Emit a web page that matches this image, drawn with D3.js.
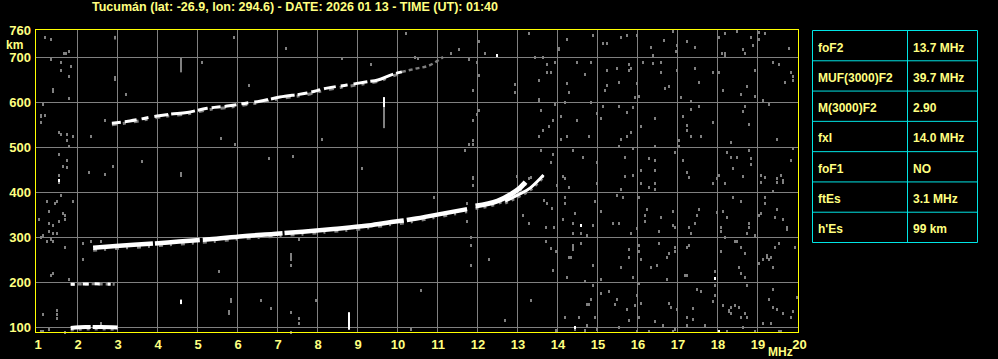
<!DOCTYPE html>
<html>
<head>
<meta charset="utf-8">
<script src="https://cdn.jsdelivr.net/npm/d3@7"></script>
<style>
  html, body { margin: 0; padding: 0; background: #000; }
  svg { display: block; font-family: "Liberation Sans", Arial, sans-serif; font-weight: bold; }
</style>
</head>
<body>
<div id="chart"></div>
<script>
// Ticks
const freqTicks = [1, 2, 3, 4, 5, 6, 7, 8, 9, 10, 11, 12, 13, 14, 15, 16, 17, 18, 19, 20];
const heightTicks = [100, 200, 300, 400, 500, 600, 700, 760];
const gridHeights = [100, 200, 300, 400, 500, 600, 700];

// Parameter table
const paramNames = ["foF2", "MUF(3000)F2", "M(3000)F2", "fxI", "foF1", "ftEs", "h'Es"];
const paramValues = ["13.7 MHz", "39.7 MHz", "2.90", "14.0 MHz", "NO", "3.1 MHz", "99 km"];

// F2 trace (MHz, km)
const f2Main = [[2.39, 277], [2.96, 281], [3.8, 286], [4.54, 291], [5.3, 296], [6.13, 303], [6.9, 308],
  [7.63, 313], [8.4, 319], [9.21, 326], [9.74, 333], [10.39, 341], [11.06, 352], [11.74, 363]];
const f2Ordinary = [[11.95, 370], [12.5, 381], [12.83, 396], [13.03, 408], [13.2, 423]];
const f2Extra = [[12.69, 381], [13.0, 394], [13.33, 411], [13.5, 425], [13.65, 439]];
// second hop trace
const f2Double = [[2.86, 554], [3.31, 559], [3.99, 570], [4.31, 574], [4.74, 578], [5.24, 587], [5.74, 592],
  [6.24, 599], [6.56, 603], [7.06, 612], [7.74, 621], [8.24, 632], [8.74, 639], [9.24, 646], [9.51, 650],
  [9.86, 662], [10.11, 668]];
const f2DoubleTail = [[10.11, 668], [10.44, 675], [10.81, 683], [10.99, 692], [11.14, 701]];
// Es layers
const esLow = [[1.83, 99], [2.2, 101], [2.6, 101], [3.03, 100]];
const esDouble = [[1.83, 196], [2.4, 197], [2.93, 196]];

// short vertical echoes: [freq, from km, to km]
const vertGray = [[9.67, 543, 590], [4.6, 667, 700], [2.94, 740, 748]];
const vertWhite = [[9.67, 590, 612], [8.78, 95, 134], [4.59, 152, 162]];

// scattered noise (MHz, km)
const grayNoise = [
  [14.24,741],[14.89,750],[15.14,732],[15.24,732],[15.59,745],[15.74,750],[15.99,750],[16.34,723],[16.39,706],
  [16.66,739],[16.95,715],[16.99,728],[16.89,759],[17.24,737],[17.44,723],[18.04,746],[18.19,755],[18.49,759],
  [18.64,719],[18.69,709],[18.84,745],[18.89,728],[19.04,756],[19.04,741],[19.19,755],[19.79,721],[18.11,709],
  [18.19,709],[18.19,705],[14.49,689],[14.84,689],[14.69,663],[15.24,672],[15.49,676],[15.79,686],[15.84,676],
  [15.79,672],[16.14,689],[16.39,687],[16.59,689],[16.59,667],[16.99,672],[17.44,676],[17.89,667],[18.04,667],
  [18.94,672],[19.39,689],[19.54,686],[19.84,667],[19.89,658],[19.89,649],[19.69,645],[14.23,643],[14.29,623],
  [15.24,639],[15.19,627],[15.54,645],[15.99,643],[15.94,612],[16.04,614],[16.69,632],[16.79,636],[17.09,612],
  [17.34,603],[17.54,645],[18.14,627],[18.59,618],[18.74,636],[18.94,614],[19.14,605],[19.29,596],[14.19,601],
  [14.84,601],[15.14,592],[15.54,592],[15.89,589],[15.74,578],[14.99,576],[15.09,565],[14.49,560],[14.09,569],
  [16.09,547],[16.44,565],[17.14,569],[17.24,549],[17.24,538],[17.34,525],[17.59,525],[17.89,556],[17.54,592],
  [17.34,585],[18.64,581],[18.69,592],[18.79,552],[19.49,520],[18.34,512],[14.79,525],[14.24,525],[14.09,520],
  [15.59,520],[15.84,534],[15.74,525],[15.54,503],[15.89,498],[16.44,503],[17.04,516],[17.04,503],[14.39,494],
  [14.64,479],[14.99,467],[15.69,480],[16.29,476],[16.44,472],[16.09,449],[16.44,449],[15.89,440],[15.69,436],
  [16.94,489],[17.14,472],[17.24,445],[17.29,435],[18.04,440],[18.24,489],[18.34,480],[18.49,480],[18.39,454],
  [18.64,436],[18.84,476],[18.84,463],[18.79,494],[19.09,440],[19.19,435],[19.49,432],[19.59,440],[19.64,427],
  [19.84,472],[19.89,498],[14.14,436],[14.19,432],[17.99,432],
  [14.29,412],[14.99,421],[15.59,408],[16.09,421],[16.29,412],[16.44,421],[16.44,408],[17.89,421],[18.19,421],
  [19.09,424],[19.49,424],[19.64,424],[19.39,404],[14.19,390],[14.19,377],[14.94,381],[14.44,355],[14.14,341],
  [14.39,332],[14.59,309],[14.39,309],[14.74,306],[14.89,328],[15.09,359],[15.39,332],[15.54,332],[15.64,390],
  [15.49,395],[15.84,310],[15.99,321],[16.04,390],[16.19,350],[16.19,337],[16.24,364],[16.59,346],[16.54,315],
  [16.89,359],[16.89,328],[16.94,324],[17.29,324],[17.34,310],[17.44,332],[17.49,350],[17.54,364],[17.99,356],
  [18.14,359],[18.24,346],[18.09,324],[18.09,315],[18.19,301],[18.39,390],[18.59,381],[18.79,332],[18.79,324],
  [18.94,306],[19.19,390],[19.19,377],[19.04,350],[19.09,355],[19.44,346],[19.49,364],[19.64,341],[19.74,324],
  [19.74,319],[18.74,310],[18.44,292],[18.49,292],[14.39,283],[14.39,275],[14.39,279],[14.34,257],[14.29,257],
  [14.59,288],[14.89,239],[14.24,212],[14.69,203],[15.09,208],[15.59,235],[15.79,275],[15.79,257],[15.89,212],
  [16.04,283],[16.04,270],[16.09,252],[16.34,235],[16.49,239],[16.54,288],[16.74,257],[16.94,279],[16.94,270],
  [16.79,266],[16.74,208],[17.24,279],[17.29,283],[17.19,217],[17.24,217],[17.94,226],[18.09,270],[18.54,235],
  [18.59,221],[18.69,212],[18.59,279],[18.69,266],[19.04,243],[19.14,252],[19.24,261],[19.34,257],[19.39,235],
  [19.54,288],[19.44,279],[19.94,279],[19.24,257],[19.29,252],
  [14.89,195],[14.79,152],[14.94,124],[14.74,152],[14.84,164],[14.19,124],[14.54,124],[14.74,106],[15.09,177],
  [15.29,181],[15.49,164],[15.44,152],[15.74,141],[15.79,116],[16.04,124],[15.94,150],[16.09,155],[15.99,172],
  [16.04,199],[16.44,115],[16.64,106],[16.79,155],[16.84,146],[16.99,141],[16.94,97],[17.24,124],[17.39,119],
  [17.39,143],[17.49,186],[17.59,181],[17.94,195],[17.94,172],[17.89,159],[18.14,150],[18.29,137],[18.34,146],
  [18.44,150],[18.54,146],[18.59,124],[18.69,132],[18.74,124],[18.74,195],[18.94,92],[19.14,110],[19.34,110],
  [19.39,186],[19.29,164],[19.39,146],[19.49,141],[19.64,132],[19.84,124],[19.99,168],[19.89,137],[18.24,92],
  [18.64,101],[19.54,92],[19.59,92],[17.24,106],[17.69,106],[15.54,101],[14.99,97],[14.69,94],[15.99,92],
  [16.29,92],[16.89,92],[14.44,97],[18.29,140],[18.34,133],
  [1.09,556],[1.54,534],[1.59,530],[1.74,530],[1.89,525],[1.74,516],[1.79,503],[2.34,525],[1.54,485],[1.74,472],
  [1.64,458],[1.74,456],[1.54,438],[1.54,423],[2.29,445],[2.69,441],[2.89,458],[4.59,444],[4.59,440],[5.59,521],
  [5.94,507],[6.79,476],[7.39,481],[1.59,394],[1.24,381],[1.49,381],[1.44,376],[1.89,381],[1.29,358],[1.64,354],
  [1.69,350],[1.69,341],[1.04,341],[1.54,336],[1.29,332],[1.39,327],[1.29,314],[1.39,310],[1.49,310],[1.14,305],
  [1.09,301],[1.34,296],[1.24,292],[1.39,292],[2.34,292],[2.59,292],[2.14,287],[1.69,278],[2.14,252],[1.34,216],
  [1.39,221],[1.79,207],[5.54,225],[7.34,261],[7.34,252],[7.34,238],
  [10.2,754],[9.34,686],[11.34,710],[11.54,719],[12.04,737],[12.19,710],[11.79,697],[11.99,691],[12.04,661],
  [11.89,628],[12.04,584],[11.99,575],[11.89,561],[11.89,517],[11.79,508],[11.89,508],[11.69,495],[13.29,754],
  [13.44,701],[13.64,701],[13.74,686],[13.94,690],[13.74,668],[13.84,668],[13.54,650],[12.94,641],[12.94,624],
  [13.54,608],[13.54,604],[13.59,584],[13.89,561],[13.79,548],[13.64,539],[13.54,526],[13.59,495],[13.89,486],
  [13.84,468],[12.99,437],[13.29,432],[13.64,437],[13.94,597],[14.04,721],[14.04,718],[11.89,432],[10.44,702],
  [10.5,700],
  [1.19,746],[1.34,741],[1.66,710],[1.72,710],[1.79,715],[1.34,697],[1.59,690],[1.84,681],[1.59,673],[1.79,659],
  [1.39,630],[1.39,626],[1.79,610],[1.14,597],[1.09,573],[1.09,569],[1.19,573],[1.09,557],[1.54,535],[1.74,530],
  [2.94,657],[2.94,653],[2.69,561],[2.34,526],
  [1.14,131],[1.34,217],[1.39,221],[1.79,208],[1.49,138],[1.49,131],[1.49,122],[1.09,93],[1.14,93],[1.29,96],
  [1.69,91],[2.59,111],[5.54,226],[5.79,137],[5.79,133],[5.84,164],[5.84,159],[6.84,144],[7.34,135],[7.34,239],
  [7.54,122],[7.54,109],[7.34,91],
  [11.89,434],[11.89,417],[11.74,377],[11.74,337],[11.84,302],[11.84,284],[12.29,253],[12.99,437],[13.14,351],
  [13.29,333],[13.33,434],[13.99,417],[13.66,383],[13.74,376],[13.87,365],[13.91,324],[13.71,323],[13.7,292],
  [13.83,277],[13.95,270],[7.34,263],[7.34,254],[7.54,297],
  [7.95,161],[10.58,183],[11.83,239],[12.7,117],[13.33,161],[13.88,228],[10.33,97],[6.58,161],[13.95,94],
  [5.9,745],[7.2,722],[8.6,700],[6.3,640],[3.6,470],[8.1,520],[9.1,455],[10.9,390],[3.2,620],[5.1,690]
];
const whiteNoise = [[14.59, 328], [17.94, 211], [14.44, 101], [18.04, 92], [1.54, 427], [12.49, 705]];

// Chart setup
const width = 998;
const height = 359;
const yellow = "#ffff80";
const gridColor = "#808080";

const svg = d3.select("#chart")
  .append("svg")
  .attr("width", width)
  .attr("height", height);

svg.append("rect").attr("width", width).attr("height", height).attr("fill", "#000");

// scales
const x = d3.scaleLinear().domain([1, 20]).range([37.5, 797.5]);
const y = d3.scaleLinear().domain([100, 700]).range([327.5, 57.5]);

const plotLeft = x(1) - 2, plotRight = x(20) + 1;
const plotTop = y(762), plotBottom = y(89);

// grid
const grid = svg.append("g").attr("stroke", gridColor).attr("stroke-width", 1).attr("shape-rendering", "crispEdges");
grid.selectAll(".vg")
  .data(freqTicks.filter(f => f > 1 && f < 20))
  .enter().append("line")
  .attr("x1", d => x(d)).attr("x2", d => x(d))
  .attr("y1", plotTop).attr("y2", plotBottom);
grid.selectAll(".hg")
  .data(gridHeights)
  .enter().append("line")
  .attr("x1", plotLeft).attr("x2", plotRight)
  .attr("y1", d => y(d)).attr("y2", d => y(d));

// noise
svg.append("g").attr("shape-rendering", "crispEdges")
  .selectAll("rect")
  .data(grayNoise)
  .enter().append("rect")
  .attr("x", d => Math.round(x(d[0])) - 1)
  .attr("y", d => Math.round(y(d[1])) - 1)
  .attr("width", 2)
  .attr("height", 3)
  .attr("fill", gridColor);

svg.append("g").attr("shape-rendering", "crispEdges")
  .selectAll("rect")
  .data(whiteNoise)
  .enter().append("rect")
  .attr("x", d => Math.round(x(d[0])) - 1)
  .attr("y", d => Math.round(y(d[1])) - 1)
  .attr("width", 2)
  .attr("height", 3)
  .attr("fill", "#fff");

// traces
const line = d3.line()
  .x(d => x(d[0]))
  .y(d => y(d[1]))
  .curve(d3.curveMonotoneX);

function trace(pts, color, w, dash, dy) {
  svg.append("path")
    .attr("d", line(pts))
    .attr("fill", "none")
    .attr("stroke", color)
    .attr("stroke-width", w)
    .attr("stroke-dasharray", dash || null)
    .attr("transform", dy ? "translate(0," + dy + ")" : null);
}

// gray fringes
trace(f2Main, gridColor, 3, "4,7,2,9", 2.5);
trace(f2Ordinary, gridColor, 3, "3,5", 2.5);
trace(f2Extra, gridColor, 3, "3,4", 2);
trace(f2Double, gridColor, 3, "5,6,3,8", 1.5);
trace(f2DoubleTail, gridColor, 2.5, "4,3");
trace(esLow, gridColor, 3, "3,5", 2);
trace(esDouble, gridColor, 3, "4,3");

// white echoes
trace(f2Main, "#fff", 4.5, "60,2,45,3,80,2,120,3,90,2");
trace(f2Ordinary, "#fff", 5);
trace(f2Extra, "#fff", 3);
trace(f2Double, "#fff", 3, "9,4,12,5,7,6,14,3,24,3,10,4");
trace(esLow, "#fff", 4, "20,2,25,3,30");
trace(esDouble, "#fff", 3, "4,8,6,6,5,8,3,4");

// vertical echoes
svg.append("g").selectAll("rect")
  .data(vertGray)
  .enter().append("rect")
  .attr("x", d => Math.round(x(d[0])) - 1)
  .attr("y", d => y(d[2]))
  .attr("width", 2)
  .attr("height", d => y(d[1]) - y(d[2]))
  .attr("fill", gridColor);
svg.append("g").selectAll("rect")
  .data(vertWhite)
  .enter().append("rect")
  .attr("x", d => Math.round(x(d[0])) - 1)
  .attr("y", d => y(d[2]))
  .attr("width", 2)
  .attr("height", d => y(d[1]) - y(d[2]))
  .attr("fill", "#fff");

// frame
svg.append("rect")
  .attr("x", plotLeft).attr("y", plotTop)
  .attr("width", plotRight - plotLeft).attr("height", plotBottom - plotTop)
  .attr("fill", "none")
  .attr("stroke", "#ffff00")
  .attr("stroke-width", 1)
  .attr("shape-rendering", "crispEdges");

// axes
const xAxis = svg.append("g")
  .attr("transform", "translate(0," + plotBottom + ")")
  .call(d3.axisBottom(x).tickValues(freqTicks).tickFormat(d3.format("d")).tickSize(0).tickPadding(7));
const yAxis = svg.append("g")
  .attr("transform", "translate(" + plotLeft + ",0)")
  .call(d3.axisLeft(y).tickValues(heightTicks).tickFormat(d3.format("d")).tickSize(0).tickPadding(4.5));
[xAxis, yAxis].forEach(a => {
  a.select(".domain").remove();
  a.selectAll("text")
    .attr("fill", yellow)
    .style("font-family", "'Liberation Sans', Arial, sans-serif")
    .style("font-weight", "bold")
    .style("font-size", "13px");
});
xAxis.selectAll("text").filter(d => d === 20).attr("x", 1.5);

svg.append("text").attr("x", 6).attr("y", 49).attr("fill", yellow).style("font-size", "12px").text("km");
svg.append("text").attr("x", 768).attr("y", 356).attr("fill", yellow).style("font-size", "12px").text("MHz");

// title
svg.append("text")
  .attr("x", 92).attr("y", 11)
  .attr("fill", yellow)
  .style("font-size", "12.5px")
  .attr("textLength", 406)
  .attr("lengthAdjust", "spacingAndGlyphs")
  .text("Tucumán (lat: -26.9, lon: 294.6) - DATE: 2026 01 13 - TIME (UT): 01:40");

// parameter table
const row = d3.scaleLinear().domain([0, paramNames.length]).range([30.5, 242.5]);
const cols = [812.5, 907.5, 977.5];
const table = svg.append("g");
table.selectAll(".hl")
  .data(d3.range(paramNames.length + 1))
  .enter().append("line")
  .attr("x1", cols[0]).attr("x2", cols[2])
  .attr("y1", d => row(d)).attr("y2", d => row(d))
  .attr("stroke", "#00e5e5");
table.selectAll(".vl")
  .data(cols)
  .enter().append("line")
  .attr("x1", d => d).attr("x2", d => d)
  .attr("y1", row(0)).attr("y2", row(paramNames.length))
  .attr("stroke", "#00e5e5");
table.selectAll(".pn")
  .data(paramNames)
  .enter().append("text")
  .attr("x", cols[0] + 5.5)
  .attr("y", (d, i) => row(i) + 21)
  .attr("fill", yellow)
  .style("font-size", "12px")
  .text(d => d);
table.selectAll(".pv")
  .data(paramValues)
  .enter().append("text")
  .attr("x", cols[1] + 5.5)
  .attr("y", (d, i) => row(i) + 21)
  .attr("fill", yellow)
  .style("font-size", "12px")
  .text(d => d);
</script>
</body>
</html>
